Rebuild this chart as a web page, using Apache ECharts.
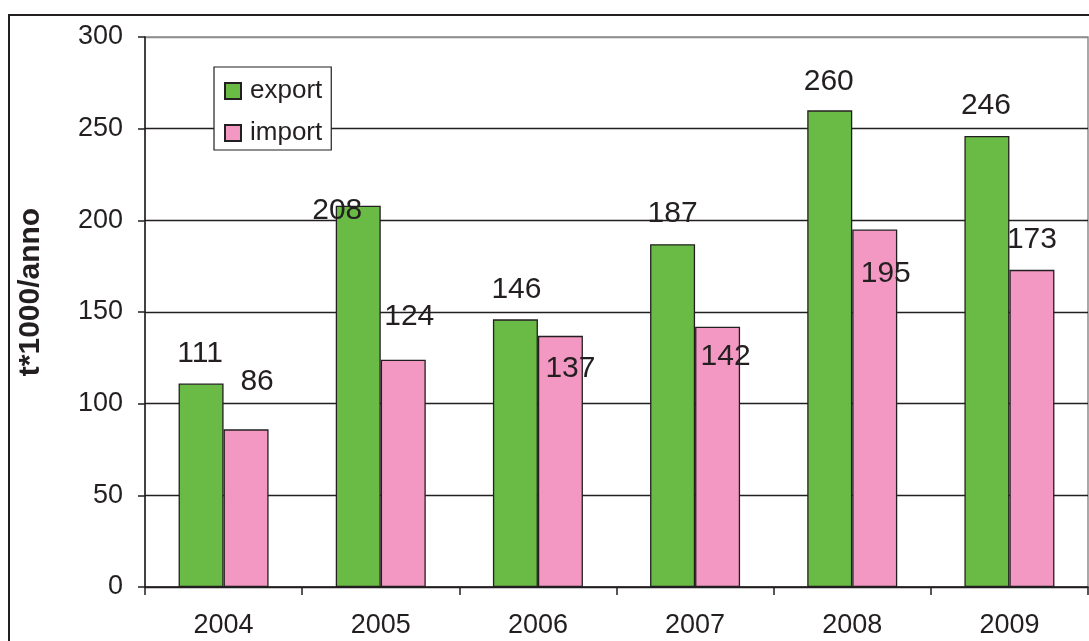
<!DOCTYPE html>
<html>
<head>
<meta charset="utf-8">
<script src="https://cdn.jsdelivr.net/npm/echarts@6/dist/echarts.min.js"></script>
<style>
html,body{margin:0;padding:0;background:#fff;}
#chart{width:1089px;height:641px;}
</style>
</head>
<body>
<div id="chart"></div>
<script>
// ---- data ----
const categories = ['2004', '2005', '2006', '2007', '2008', '2009'];
const exportValues = [111, 208, 146, 187, 260, 246];
const importValues = [86, 124, 137, 142, 195, 173];
const yTicks = [0, 50, 100, 150, 200, 250, 300];
const yAxisTitle = 't*1000/anno';
const seriesNames = ['export', 'import'];

// ---- label placement (styling, mimics the manually placed labels) ----
const exportLabelShift = [[-1, -15], [-21, 20], [1, -15], [0, -15], [-1, -14], [-1, -15]];
const importLabelShift = [[11, -33], [6, -28], [10, 48], [8, 45], [11, 59], [0, -15]];

const FONT = "'Liberation Sans', Arial, sans-serif";

function buildData(values, shifts) {
  return values.map((v, i) => ({
    value: v,
    label: { offset: shifts[i] }
  }));
}

const chart = echarts.init(document.getElementById('chart'), null, { renderer: 'canvas' });

const labelStyle = {
  show: true,
  position: 'top',
  distance: 0,
  fontSize: 30,
  fontFamily: FONT,
  color: '#231f20'
};

chart.setOption({
  animation: false,
  backgroundColor: '#ffffff',
  grid: {
    left: 145, top: 37, right: 1, bottom: 54,
    show: true, borderColor: '#8c8c8c', borderWidth: 1.5, backgroundColor: 'transparent'
  },
  legend: {
    orient: 'vertical',
    left: 214, top: 67,
    itemWidth: 16, itemHeight: 16, itemGap: 16,
    padding: [11, 9, 4, 10],
    backgroundColor: '#ffffff',
    borderColor: '#231f20', borderWidth: 1.2,
    icon: 'rect',
    textStyle: { fontSize: 26, fontFamily: FONT, color: '#231f20', padding: [0, 0, 0, 4] },
    data: seriesNames
  },
  xAxis: {
    type: 'category',
    data: categories,
    axisLine: { lineStyle: { color: '#231f20', width: 1.5 } },
    axisTick: { show: true, length: 8, alignWithLabel: false, lineStyle: { color: '#231f20', width: 1.5 } },
    axisLabel: { fontSize: 27, fontFamily: FONT, color: '#231f20', margin: 25 },
    splitLine: { show: false }
  },
  yAxis: {
    type: 'value',
    min: yTicks[0], max: yTicks[yTicks.length - 1], interval: yTicks[1] - yTicks[0],
    axisLine: { show: true, lineStyle: { color: '#231f20', width: 1.5 } },
    axisTick: { show: true, length: 7, lineStyle: { color: '#231f20', width: 1.5 } },
    axisLabel: { fontSize: 27, fontFamily: FONT, color: '#231f20', margin: 22 },
    splitLine: { show: true, lineStyle: { color: ['#231f20', '#231f20', '#231f20', '#231f20', '#231f20', '#231f20', '#8c8c8c'], width: 1.3 } }
  },
  graphic: [
    {
      type: 'rect', z: -10, silent: true,
      shape: { x: 9, y: 15, width: 1200, height: 800 },
      style: { fill: 'none', stroke: '#231f20', lineWidth: 2 }
    },
    {
      type: 'text', silent: true,
      x: 31, y: 292, rotation: Math.PI / 2,
      style: {
        text: yAxisTitle, fontSize: 30, fontWeight: 'bold', fontFamily: FONT,
        fill: '#231f20', align: 'center', verticalAlign: 'middle'
      }
    }
  ],
  series: [
    {
      name: seriesNames[0], type: 'bar',
      barWidth: 45, barGap: '0%',
      itemStyle: { color: '#6abb45', borderColor: '#231f20', borderWidth: 1.3 },
      label: labelStyle,
      data: buildData(exportValues, exportLabelShift)
    },
    {
      name: seriesNames[1], type: 'bar',
      barWidth: 45, barGap: '0%',
      itemStyle: { color: '#f298c2', borderColor: '#231f20', borderWidth: 1.3 },
      label: labelStyle,
      data: buildData(importValues, importLabelShift)
    }
  ]
});
</script>
</body>
</html>
